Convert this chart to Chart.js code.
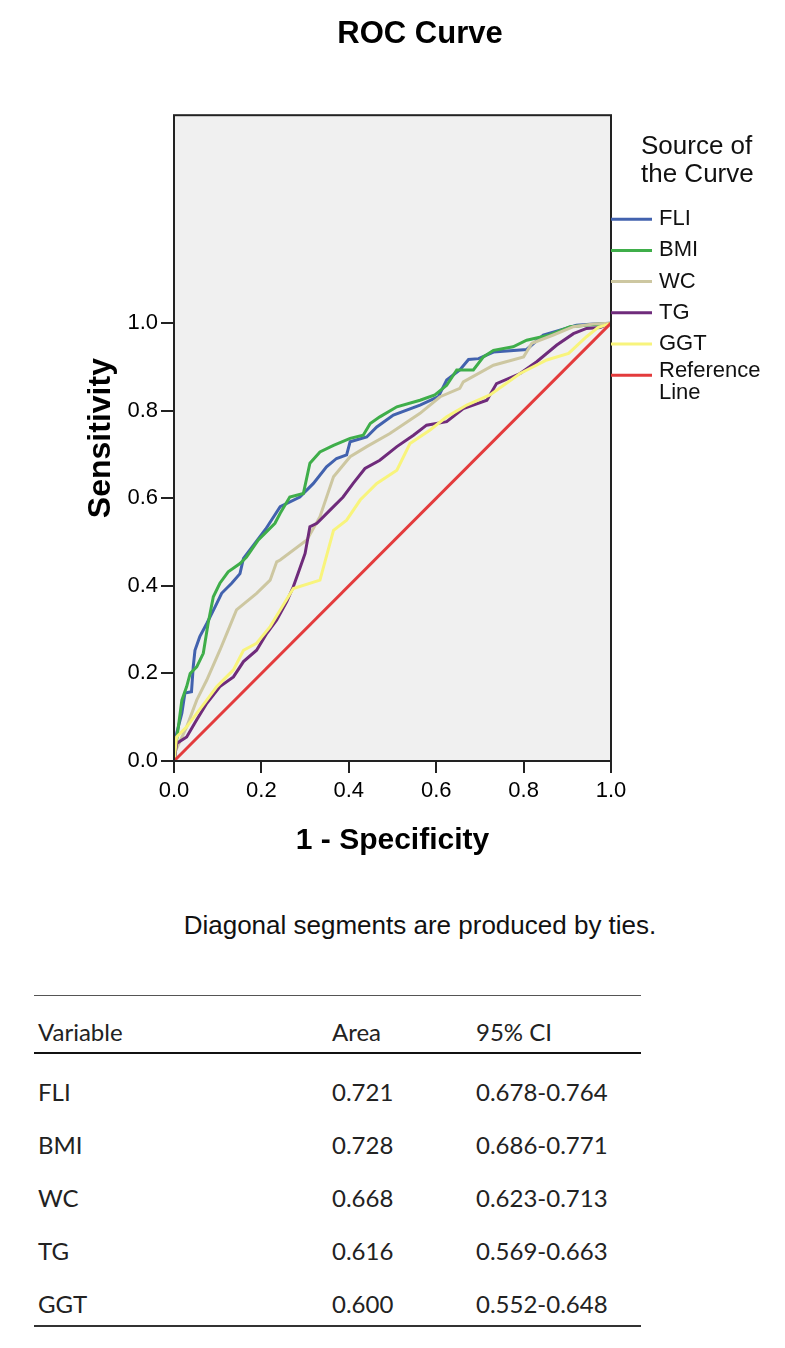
<!DOCTYPE html>
<html lang="en">
<head>
  <meta charset="UTF-8" />
  <title>ROC Curve</title>
  <script src="https://cdn.jsdelivr.net/npm/chart.js"></script>
  <style>
    html, body { margin: 0; padding: 0; background: #fff; }
    body { width: 785px; height: 1348px; position: relative; overflow: hidden; }
    #roc { position: absolute; left: 0; top: 0; }
    .note {
      position: absolute; left: 0; width: 840px; top: 910px;
      text-align: center; font-family: 'Liberation Sans', Arial, sans-serif;
      font-size: 26px; color: #111;
    }
    table.auc {
      position: absolute; left: 34px; top: 995px; width: 607px;
      border-collapse: collapse; table-layout: fixed; font-family: Lato, 'Open Sans', sans-serif;
      font-size: 24px; color: #222;
    }
    table.auc th, table.auc td {
      text-align: left; font-weight: normal; line-height: 24px;
      vertical-align: top; padding: 26px 0 3px 4px; height: 24px; white-space: nowrap;
    }
    table.auc thead th { padding-top: 24px; padding-bottom: 8px; border-top: 1.5px solid #555; border-bottom: 2px solid #111; }
    table.auc tbody tr:last-child td { padding-bottom: 9px; border-bottom: 2px solid #333; }
    table.auc .c1 { width: 290px; }
    table.auc .c2 { width: 140px; }
  </style>
</head>
<body>
  <canvas id="roc" width="785" height="880"></canvas>
  <div class="note">Diagonal segments are produced by ties.</div>
  <table class="auc">
    <thead><tr><th class="c1">Variable</th><th class="c2">Area</th><th>95% CI</th></tr></thead>
    <tbody id="aucBody"></tbody>
  </table>
  <script>
    // values (1 - specificity / sensitivity)
    const fliX = [0, 0.002, 0.006, 0.018, 0.025, 0.04, 0.044, 0.048, 0.059, 0.075, 0.094, 0.109, 0.132, 0.151, 0.159, 0.185, 0.21, 0.243, 0.288, 0.319, 0.349, 0.372, 0.395, 0.403, 0.441, 0.464, 0.502, 0.563, 0.605, 0.624, 0.654, 0.674, 0.697, 0.731, 0.807, 0.845, 0.883, 0.921, 0.96, 1];
    const fliY = [0, 0.018, 0.063, 0.109, 0.155, 0.158, 0.215, 0.253, 0.284, 0.314, 0.352, 0.383, 0.406, 0.428, 0.463, 0.497, 0.53, 0.581, 0.603, 0.634, 0.672, 0.691, 0.699, 0.729, 0.74, 0.763, 0.79, 0.813, 0.832, 0.87, 0.893, 0.917, 0.919, 0.934, 0.94, 0.973, 0.984, 0.995, 0.998, 1];

    const bmiX = [0, 0.006, 0.018, 0.029, 0.037, 0.052, 0.067, 0.078, 0.09, 0.105, 0.124, 0.151, 0.166, 0.193, 0.231, 0.243, 0.265, 0.296, 0.311, 0.334, 0.365, 0.403, 0.433, 0.449, 0.471, 0.51, 0.563, 0.597, 0.624, 0.647, 0.685, 0.708, 0.731, 0.776, 0.807, 0.86, 0.906, 0.95, 1];
    const bmiY = [0, 0.048, 0.139, 0.17, 0.2, 0.215, 0.246, 0.314, 0.375, 0.406, 0.432, 0.451, 0.466, 0.505, 0.543, 0.566, 0.603, 0.611, 0.68, 0.706, 0.721, 0.737, 0.744, 0.771, 0.786, 0.809, 0.824, 0.836, 0.858, 0.893, 0.893, 0.923, 0.938, 0.946, 0.961, 0.973, 0.992, 0.996, 1];

    const wcX = [0, 0.002, 0.029, 0.052, 0.075, 0.105, 0.124, 0.143, 0.189, 0.22, 0.235, 0.243, 0.304, 0.334, 0.365, 0.403, 0.441, 0.494, 0.563, 0.609, 0.654, 0.662, 0.731, 0.8, 0.819, 0.868, 0.914, 0.96, 1];
    const wcY = [0, 0.02, 0.078, 0.139, 0.185, 0.253, 0.299, 0.345, 0.383, 0.413, 0.455, 0.459, 0.505, 0.558, 0.649, 0.695, 0.718, 0.748, 0.794, 0.832, 0.851, 0.866, 0.904, 0.923, 0.954, 0.973, 0.992, 0.998, 1];

    const tgX = [0, 0.006, 0.029, 0.052, 0.075, 0.105, 0.136, 0.159, 0.189, 0.212, 0.235, 0.258, 0.273, 0.284, 0.3, 0.311, 0.327, 0.357, 0.387, 0.41, 0.437, 0.471, 0.51, 0.548, 0.578, 0.624, 0.662, 0.716, 0.738, 0.792, 0.83, 0.876, 0.914, 0.944, 0.975, 1];
    const tgY = [0, 0.04, 0.055, 0.094, 0.132, 0.17, 0.192, 0.227, 0.253, 0.291, 0.322, 0.364, 0.398, 0.429, 0.474, 0.535, 0.543, 0.573, 0.603, 0.634, 0.668, 0.687, 0.718, 0.744, 0.767, 0.775, 0.805, 0.824, 0.862, 0.885, 0.912, 0.95, 0.976, 0.988, 0.99, 1];

    const ggtX = [0, 0.006, 0.029, 0.052, 0.075, 0.098, 0.136, 0.159, 0.189, 0.22, 0.243, 0.273, 0.334, 0.365, 0.395, 0.426, 0.464, 0.51, 0.54, 0.586, 0.624, 0.67, 0.723, 0.792, 0.853, 0.903, 0.944, 0.97, 1];
    const ggtY = [0, 0.055, 0.078, 0.109, 0.139, 0.17, 0.208, 0.253, 0.269, 0.307, 0.345, 0.394, 0.413, 0.527, 0.55, 0.596, 0.634, 0.664, 0.725, 0.756, 0.786, 0.813, 0.836, 0.885, 0.916, 0.931, 0.969, 0.99, 1];

    const refX = [0, 1];
    const refY = [0, 1];

    const xTicks = [0, 0.2, 0.4, 0.6, 0.8, 1.0];
    const yTicks = [0, 0.2, 0.4, 0.6, 0.8, 1.0];

    const tableVars = ['FLI', 'BMI', 'WC', 'TG', 'GGT'];
    const tableArea = ['0.721', '0.728', '0.668', '0.616', '0.600'];
    const tableCI = ['0.678-0.764', '0.686-0.771', '0.623-0.713', '0.569-0.663', '0.552-0.648'];

    const pts = (xs, ys) => xs.map((x, i) => ({ x: x, y: ys[i] }));

    function line(label, xs, ys, color, order) {
      return {
        label: label,
        data: pts(xs, ys),
        borderColor: color,
        backgroundColor: color,
        borderWidth: 3,
        pointRadius: 0,
        tension: 0,
        fill: false,
        order: order
      };
    }

    // box, background and SPSS-like legend
    const plotFrame = {
      id: 'plotFrame',
      beforeDraw(chart) {
        const a = chart.chartArea, ctx = chart.ctx;
        ctx.save();
        ctx.fillStyle = '#f0f0f0';
        ctx.fillRect(a.left, a.top, a.right - a.left, a.bottom - a.top);
        ctx.restore();
      },
      afterDraw(chart) {
        const a = chart.chartArea, ctx = chart.ctx;
        ctx.save();
        ctx.strokeStyle = '#222';
        ctx.lineWidth = 2;
        ctx.strokeRect(a.left, a.top, a.right - a.left, a.bottom - a.top);

        ctx.fillStyle = '#111';
        ctx.textBaseline = 'middle';
        ctx.font = '26px "Liberation Sans", Arial, sans-serif';
        ctx.fillText('Source of', a.right + 30, a.top + 32);
        ctx.fillText('the Curve', a.right + 30, a.top + 60);

        ctx.font = '22px "Liberation Sans", Arial, sans-serif';
        chart.data.datasets.forEach((ds, i) => {
          const yc = a.top + 104 + i * 31.2;
          ctx.strokeStyle = ds.borderColor;
          ctx.lineWidth = 3;
          ctx.beginPath();
          ctx.moveTo(a.right, yc);
          ctx.lineTo(a.right + 41, yc);
          ctx.stroke();
          const parts = Array.isArray(ds.legendText) ? ds.legendText : [ds.label];
          parts.forEach((t, k) => ctx.fillText(t, a.right + 48, yc + k * 22 - (parts.length - 1) * 4));
        });
        ctx.restore();
      }
    };

    const datasets = [
      line('FLI', fliX, fliY, '#4262ae', 6),
      line('BMI', bmiX, bmiY, '#3fae4a', 5),
      line('WC', wcX, wcY, '#cdc7a1', 4),
      line('TG', tgX, tgY, '#6f2b7b', 3),
      line('GGT', ggtX, ggtY, '#f8f47c', 2),
      line('Reference Line', refX, refY, '#e33b3c', 1)
    ];
    datasets[5].legendText = ['Reference', 'Line'];

    const tickFont = { family: "'Liberation Sans', Arial, sans-serif", size: 22 };
    const titleFont = { family: "'Liberation Sans', Arial, sans-serif", size: 31, weight: 'bold' };
    const axisFont = { family: "'Liberation Sans', Arial, sans-serif", size: 30, weight: 'bold' };
    const yAxisFont = { family: "'Liberation Sans', Arial, sans-serif", size: 32, weight: 'bold' };

    new Chart(document.getElementById('roc'), {
      type: 'line',
      data: { datasets: datasets },
      options: {
        responsive: false,
        animation: false,
        layout: { padding: { left: 55, right: 0, top: 0, bottom: 17 } },
        plugins: {
          legend: { display: false },
          tooltip: { enabled: false },
          title: {
            display: true,
            text: 'ROC Curve',
            color: '#000',
            font: titleFont,
            padding: { top: 16, bottom: 62 }
          }
        },
        scales: {
          x: {
            type: 'linear',
            min: 0,
            max: 1,
            afterBuildTicks: s => { s.ticks = xTicks.map(v => ({ value: v })); },
            afterFit: s => { s.height = 102; },
            grid: { drawOnChartArea: false, tickLength: 12, color: '#222', lineWidth: 2 },
            border: { display: false },
            ticks: { color: '#000', font: tickFont, padding: 5, maxRotation: 0, callback: v => v.toFixed(1) },
            title: { display: true, text: '1 - Specificity', color: '#000', font: axisFont, padding: { top: 4, bottom: 4 } }
          },
          y: {
            type: 'linear',
            min: 0,
            max: 1.475,
            afterBuildTicks: s => { s.ticks = yTicks.map(v => ({ value: v })); },
            afterFit: s => { s.width = 119; },
            grid: { drawOnChartArea: false, tickLength: 13, color: '#222', lineWidth: 2 },
            border: { display: false },
            ticks: { color: '#000', font: tickFont, padding: 3, callback: v => v.toFixed(1) },
            title: { display: true, text: 'Sensitivity', color: '#000', font: yAxisFont, padding: { top: 27, bottom: 4 } }
          },
          legendSpace: {
            type: 'linear',
            position: 'right',
            display: true,
            afterFit: s => { s.width = 174; },
            grid: { display: false },
            border: { display: false },
            ticks: { display: false }
          }
        }
      },
      plugins: [plotFrame]
    });

    // AUC table
    const body = document.getElementById('aucBody');
    tableVars.forEach((v, i) => {
      const tr = document.createElement('tr');
      [v, tableArea[i], tableCI[i]].forEach(t => {
        const td = document.createElement('td');
        td.textContent = t;
        tr.appendChild(td);
      });
      body.appendChild(tr);
    });
  </script>
</body>
</html>
